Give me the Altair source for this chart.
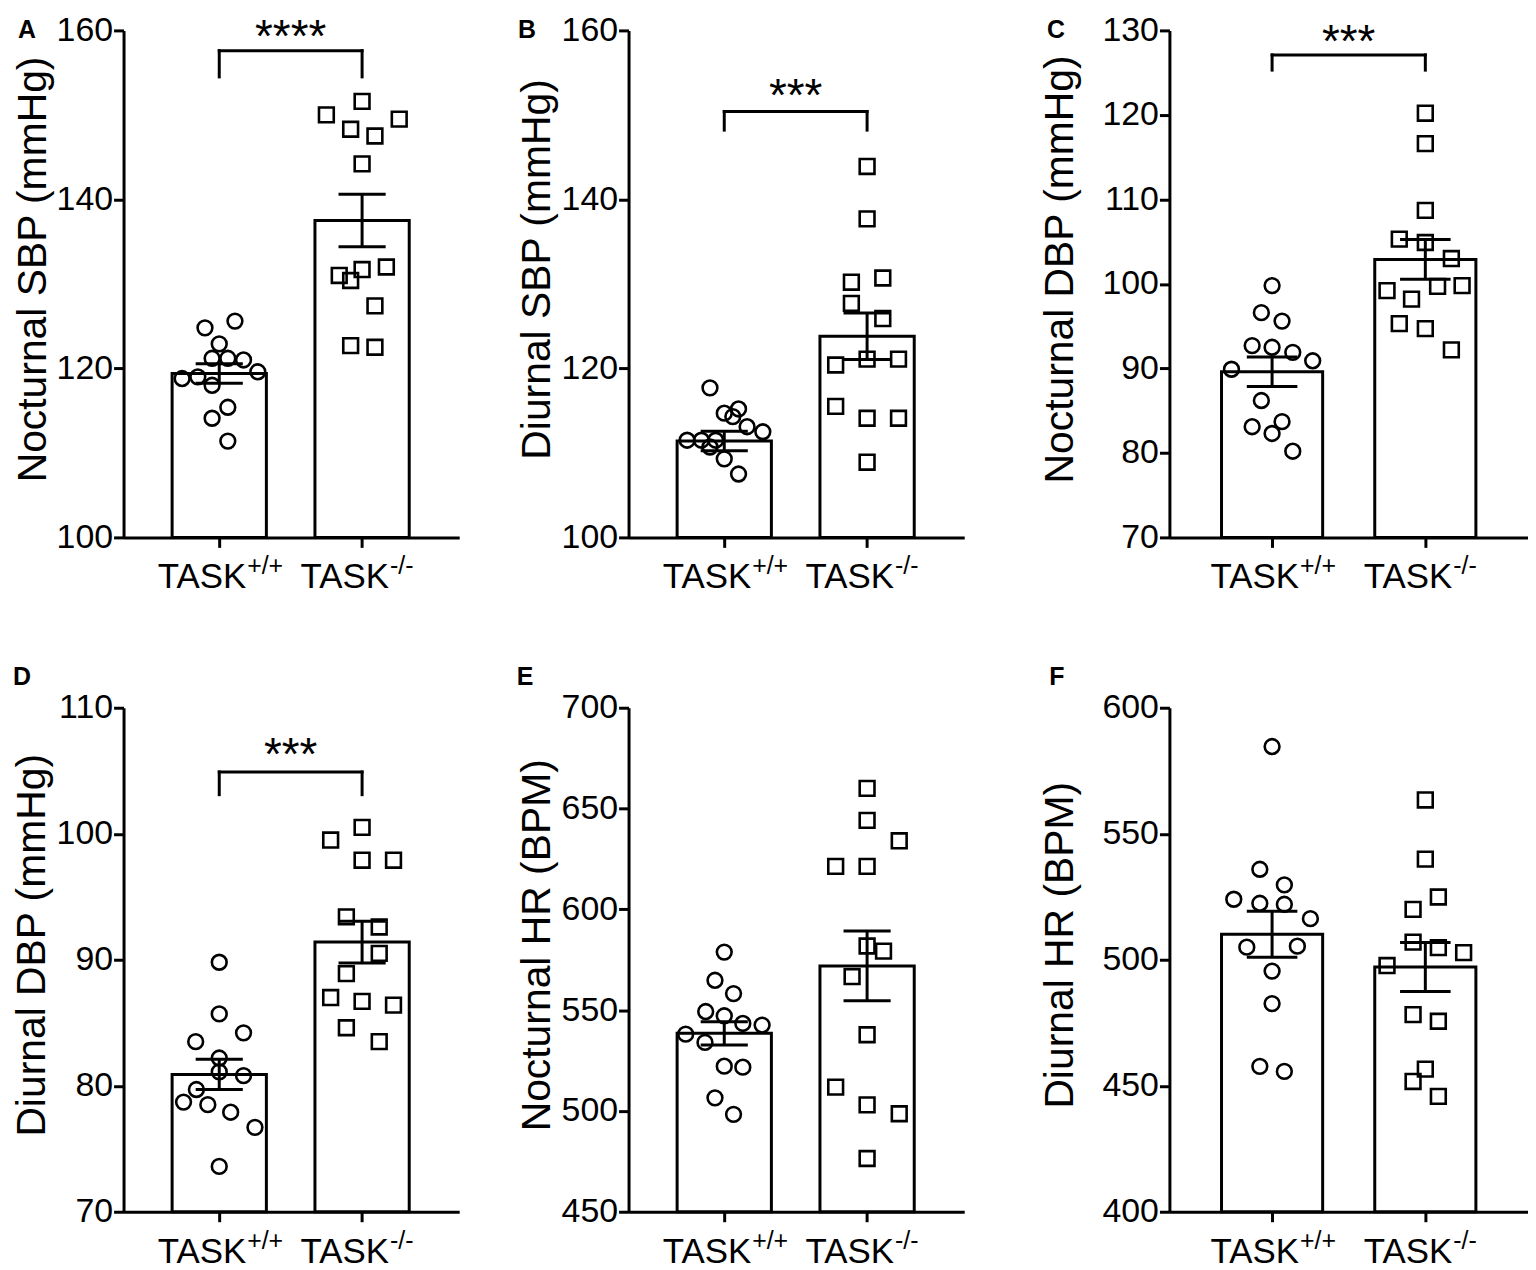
import altair as alt
import pandas as pd

FONT = "Liberation Sans"

groups = ["TASK", "TASK"]
sups = ["+/+", "-/-"]

# ---------------- Panel A: Nocturnal SBP ----------------
A_wt = [125.6, 124.8, 122.9, 121.2, 121.2, 121.0, 118.8, 119.0, 119.6, 118.0, 115.4, 114.1, 111.4]
A_wt_jit = [0.11, -0.10, 0.0, -0.05, 0.06, 0.17, -0.26, -0.15, 0.27, -0.05, 0.06, -0.05, 0.06]
A_ko = [151.6, 150.0, 149.5, 148.3, 147.5, 144.2, 131.0, 131.7, 132.0, 130.4, 127.4, 122.7, 122.5]
A_ko_jit = [0.0, -0.25, 0.26, -0.08, 0.09, 0.0, -0.16, 0.0, 0.17, -0.08, 0.09, -0.08, 0.09]
A_mean = [119.4, 137.5]
A_sem = [1.15, 3.1]

# ---------------- Panel B: Diurnal SBP ----------------
B_wt = [117.7, 114.7, 115.2, 114.3, 113.1, 112.5, 111.5, 111.5, 111.5, 110.7, 109.3, 107.5]
B_wt_jit = [-0.10, 0.0, 0.10, 0.06, 0.16, 0.27, -0.26, -0.16, -0.06, -0.10, 0.0, 0.10]
B_ko = [143.9, 137.7, 130.2, 130.7, 127.7, 125.9, 120.4, 121.1, 121.1, 115.5, 114.1, 114.1, 108.9]
B_ko_jit = [0.0, 0.0, -0.11, 0.11, -0.11, 0.11, -0.22, 0.0, 0.22, -0.22, 0.0, 0.22, 0.0]
B_mean = [111.4, 123.8]
B_sem = [1.15, 2.75]

# ---------------- Panel C: Nocturnal DBP ----------------
C_wt = [99.8, 96.6, 95.6, 92.7, 92.5, 91.9, 90.9, 89.9, 86.2, 83.7, 83.1, 82.3, 80.2]
C_wt_jit = [0.0, -0.07, 0.065, -0.13, 0.0, 0.135, 0.265, -0.265, -0.07, 0.065, -0.13, 0.0, 0.135]
C_ko = [120.2, 116.6, 108.7, 105.3, 104.9, 103.0, 99.8, 99.2, 99.7, 98.2, 95.3, 94.7, 92.2]
C_ko_jit = [0.0, 0.0, 0.0, -0.17, 0.0, 0.17, 0.24, -0.25, 0.08, -0.09, -0.17, 0.0, 0.17]
C_mean = [89.6, 102.9]
C_sem = [1.75, 2.35]

# ---------------- Panel D: Diurnal DBP ----------------
D_wt = [89.8, 85.7, 84.2, 83.5, 82.2, 81.1, 80.8, 79.7, 78.7, 78.5, 77.9, 76.7, 73.6]
D_wt_jit = [0.0, 0.0, 0.17, -0.165, 0.0, 0.0, 0.17, -0.16, -0.25, -0.08, 0.08, 0.25, 0.0]
D_ko = [100.5, 99.5, 97.9, 97.9, 93.4, 92.6, 90.5, 88.9, 87.0, 86.7, 86.4, 84.6, 83.5]
D_ko_jit = [0.0, -0.22, 0.0, 0.22, -0.11, 0.12, 0.12, -0.11, -0.22, 0.0, 0.22, -0.11, 0.12]
D_mean = [80.9, 91.4]
D_sem = [1.2, 1.65]

# ---------------- Panel E: Nocturnal HR ----------------
E_wt = [578.8, 564.8, 558.2, 549.3, 547.2, 543.4, 542.6, 538.1, 534.0, 522.2, 521.7, 506.5, 498.3]
E_wt_jit = [0.0, -0.065, 0.065, -0.13, 0.0, 0.13, 0.265, -0.27, -0.135, 0.0, 0.13, -0.065, 0.065]
E_ko = [660.0, 644.1, 634.0, 621.3, 621.3, 581.8, 579.3, 566.6, 537.8, 511.8, 503.0, 498.6, 476.4]
E_ko_jit = [0.0, 0.0, 0.225, -0.22, 0.0, 0.0, 0.115, -0.105, 0.0, -0.22, 0.0, 0.225, 0.0]
E_mean = [538.5, 571.9]
E_sem = [5.75, 17.3]

# ---------------- Panel F: Diurnal HR ----------------
F_wt = [584.6, 535.9, 529.7, 524.0, 522.4, 522.0, 516.3, 505.0, 505.4, 495.5, 482.6, 457.7, 455.7]
F_wt_jit = [0.0, -0.08, 0.08, -0.25, -0.08, 0.08, 0.25, -0.165, 0.165, 0.0, 0.0, -0.08, 0.08]
F_ko = [563.4, 539.9, 524.9, 520.0, 507.0, 504.8, 502.8, 497.7, 478.2, 475.6, 456.6, 451.7, 445.8]
F_ko_jit = [0.0, 0.0, 0.085, -0.08, -0.08, 0.085, 0.25, -0.25, -0.08, 0.085, 0.0, -0.08, 0.085]
F_mean = [510.1, 497.1]
F_sem = [9.15, 9.75]

# significance annotations: (text, bracket level, leg end, star centre)
A_sig = ("****", 157.6, 154.5, 160.0)
B_sig = ("***", 150.4, 148.2, 153.1)
C_sig = ("***", 127.1, 125.3, 129.5)
D_sig = ("***", 104.9, 103.1, 106.8)

BAR_HALF = 0.33
CAP_HALF = 0.165


def make_panel(letter, title, wt, wt_j, ko, ko_j, means, sems, ydom, yticks,
               width, height, xmax, title_x, letter_xy, sig=None):
    ymin = ydom[0]
    pts = pd.DataFrame({
        "g": [0] * len(wt) + [1] * len(ko),
        "v": wt + ko,
        "j": wt_j + ko_j,
        "shape": ["circle"] * len(wt) + ["square"] * len(ko),
    })
    bars = pd.DataFrame({"g": [0, 1], "m": means, "s": sems,
                         "base": [ymin, ymin], "lab": groups, "sup": sups})
    xs = alt.Scale(domain=[-0.67, xmax], nice=False, zero=False)
    ys = alt.Scale(domain=ydom, nice=False, zero=False)
    xax = alt.Axis(values=[0, 1], labels=False, title=None, grid=False,
                   tickSize=10)
    yax = alt.Axis(values=yticks, title=title, grid=False, tickSize=10,
                   labelPadding=1, titleX=title_x, titleY=height / 2 - 15,
                   labelFlush=False, labelOverlap=False)

    def X(f):
        return alt.X(f, scale=xs, axis=xax)

    def Y(f):
        return alt.Y(f, scale=ys, axis=yax)

    bar_layer = alt.Chart(bars).transform_calculate(
        x1=f"datum.g - {BAR_HALF}", x2=f"datum.g + {BAR_HALF}"
    ).mark_rect(fill="white", stroke="black", strokeWidth=3).encode(
        x=X("x1:Q"), x2="x2:Q", y=Y("m:Q"), y2="base:Q",
    )

    pt_layer = alt.Chart(pts).transform_calculate(
        px="datum.g + datum.j"
    ).mark_point(filled=False, color="black", strokeWidth=2.6, size=220,
                 opacity=1).encode(
        x=X("px:Q"), y=Y("v:Q"),
        shape=alt.Shape("shape:N", scale=None),
    )

    err = alt.Chart(bars).transform_calculate(
        lo="datum.m - datum.s", hi="datum.m + datum.s",
        c1=f"datum.g - {CAP_HALF}", c2=f"datum.g + {CAP_HALF}",
    )
    stem = err.mark_rule(color="black", strokeWidth=3).encode(
        x=X("g:Q"), y=Y("lo:Q"), y2="hi:Q")
    cap_lo = err.mark_rule(color="black", strokeWidth=3).encode(
        x=X("c1:Q"), x2="c2:Q", y=Y("lo:Q"))
    cap_hi = err.mark_rule(color="black", strokeWidth=3).encode(
        x=X("c1:Q"), x2="c2:Q", y=Y("hi:Q"))

    lab = alt.Chart(bars).mark_text(
        fontSize=35, align="right", dx=27, baseline="alphabetic",
        color="black"
    ).encode(x=X("g:Q"), y=alt.value(height + 51), text="lab:N")
    sup = alt.Chart(bars).mark_text(
        fontSize=25, align="left", dx=28, baseline="alphabetic",
        color="black"
    ).encode(x=X("g:Q"), y=alt.value(height + 37), text="sup:N")

    let = alt.Chart(pd.DataFrame({"t": [letter]})).mark_text(
        fontSize=25, fontWeight="bold", align="center", baseline="middle",
        color="black"
    ).encode(x=alt.value(letter_xy[0]), y=alt.value(letter_xy[1]), text="t:N")

    layers = [bar_layer, pt_layer, stem, cap_lo, cap_hi, lab, sup, let]

    if sig is not None:
        txt, b, leg, sy = sig
        br = pd.DataFrame({"x": [0, 0, 1], "x2": [1, 0, 1],
                           "y": [b, b, b], "y2": [b, leg, leg]})
        bracket = alt.Chart(br).mark_rule(
            color="black", strokeWidth=3, strokeCap="square"
        ).encode(x=X("x:Q"), x2="x2:Q", y=Y("y:Q"), y2="y2:Q")
        star = alt.Chart(pd.DataFrame({"x": [0.5], "y": [sy], "t": [txt]})).mark_text(
            fontSize=46, baseline="alphabetic", dy=22, align="center",
            color="black"
        ).encode(x=X("x:Q"), y=Y("y:Q"), text="t:N")
        layers += [bracket, star]

    return alt.layer(*layers).properties(width=width, height=height)


H1, H2 = 509, 506
W, WC = 337, 360

pA = make_panel("A", "Nocturnal SBP (mmHg)", A_wt, A_wt_jit, A_ko, A_ko_jit,
                A_mean, A_sem, [100, 160], [100, 120, 140, 160], W, H1, 1.68,
                -69, (-97, 0), A_sig)
pB = make_panel("B", "Diurnal SBP (mmHg)", B_wt, B_wt_jit, B_ko, B_ko_jit,
                B_mean, B_sem, [100, 160], [100, 120, 140, 160], W, H1, 1.68,
                -70, (-102, 0), B_sig)
pC = make_panel("C", "Nocturnal DBP (mmHg)", C_wt, C_wt_jit, C_ko, C_ko_jit,
                C_mean, C_sem, [70, 130], [70, 80, 90, 100, 110, 120, 130],
                WC, H1, 1.67, -88, (-114, 0), C_sig)
pD = make_panel("D", "Diurnal DBP (mmHg)", D_wt, D_wt_jit, D_ko, D_ko_jit,
                D_mean, D_sem, [70, 110], [70, 80, 90, 100, 110], W, H2, 1.68,
                -70, (-102, -31), D_sig)
pE = make_panel("E", "Nocturnal HR (BPM)", E_wt, E_wt_jit, E_ko, E_ko_jit,
                E_mean, E_sem, [450, 700], [450, 500, 550, 600, 650, 700],
                W, H2, 1.68, -70, (-104, -31))
pF = make_panel("F", "Diurnal HR (BPM)", F_wt, F_wt_jit, F_ko, F_ko_jit,
                F_mean, F_sem, [400, 600], [400, 450, 500, 550, 600],
                WC, H2, 1.67, -88, (-113, -31))

row1 = alt.hconcat(alt.hconcat(pA, pB, spacing=57), pC, spacing=75)
row2 = alt.hconcat(alt.hconcat(pD, pE, spacing=57), pF, spacing=75)

chart = alt.vconcat(row1, row2, spacing=70).properties(
    padding={"left": 3, "top": 3, "right": 0, "bottom": 0}
).configure(font=FONT).configure_view(stroke=None).configure_axis(
    domainColor="black", domainWidth=3, tickColor="black", tickWidth=3,
    labelFontSize=34, labelColor="black", labelFont=FONT,
    titleFontSize=41, titleFontWeight="normal", titleColor="black",
    titleFont=FONT, grid=False,
).configure_text(font=FONT)

chart.save("out.html", embed_options={"renderer": "svg", "actions": False})
